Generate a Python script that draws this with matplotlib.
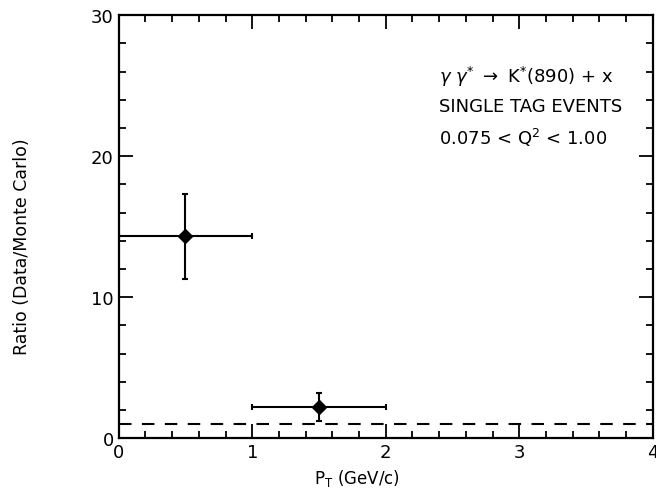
import numpy as np
import matplotlib.pyplot as plt
from matplotlib.ticker import MultipleLocator

# data
pt_centers = [0.5, 1.5]
pt_halfwidth = [0.5, 0.5]
ratio = [14.3, 2.2]
ratio_err = [3.0, 1.0]
reference_level = 1.0

plt.rcParams.update({
    "font.family": "DejaVu Sans",
    "mathtext.fontset": "dejavusans",
})

fig = plt.figure(figsize=(6.56, 4.89), dpi=100)
ax = fig.add_axes([0.181, 0.102, 0.814, 0.865])

ax.errorbar(pt_centers, ratio, xerr=pt_halfwidth, yerr=ratio_err,
            fmt="D", color="black", markersize=7, elinewidth=1.5,
            capsize=2, capthick=1.5)
ax.axhline(reference_level, color="black", linestyle=(0, (6, 5)), linewidth=1.5)

ax.set_xlim(0, 4)
ax.set_ylim(0, 30)
ax.xaxis.set_major_locator(MultipleLocator(1))
ax.xaxis.set_minor_locator(MultipleLocator(0.2))
ax.yaxis.set_major_locator(MultipleLocator(10))
ax.yaxis.set_minor_locator(MultipleLocator(2))
ax.tick_params(which="both", direction="in", top=True, right=True,
               width=1.3, labelsize=13)
ax.tick_params(which="major", length=10)
ax.tick_params(which="minor", length=5)
for s in ax.spines.values():
    s.set_linewidth(1.6)

ax.set_xlabel(r"P$_\mathrm{T}$ (GeV/c)", fontsize=12)
ax.set_ylabel("Ratio (Data/Monte Carlo)", fontsize=12.5)
ax.xaxis.set_label_coords(0.446, -0.068)
ax.yaxis.set_label_coords(-0.165, 0.454)

txt = dict(transform=ax.transAxes, fontsize=13, va="center")
ax.text(0.599, 0.856, r"$\gamma\ \gamma^{*}$ $\rightarrow$ K$^{*}$(890) + x", **txt)
ax.text(0.599, 0.785, "SINGLE TAG EVENTS", **txt)
ax.text(0.599, 0.712, r"0.075 < Q$^2$ < 1.00", **txt)

fig.savefig("out.png", dpi=100)
